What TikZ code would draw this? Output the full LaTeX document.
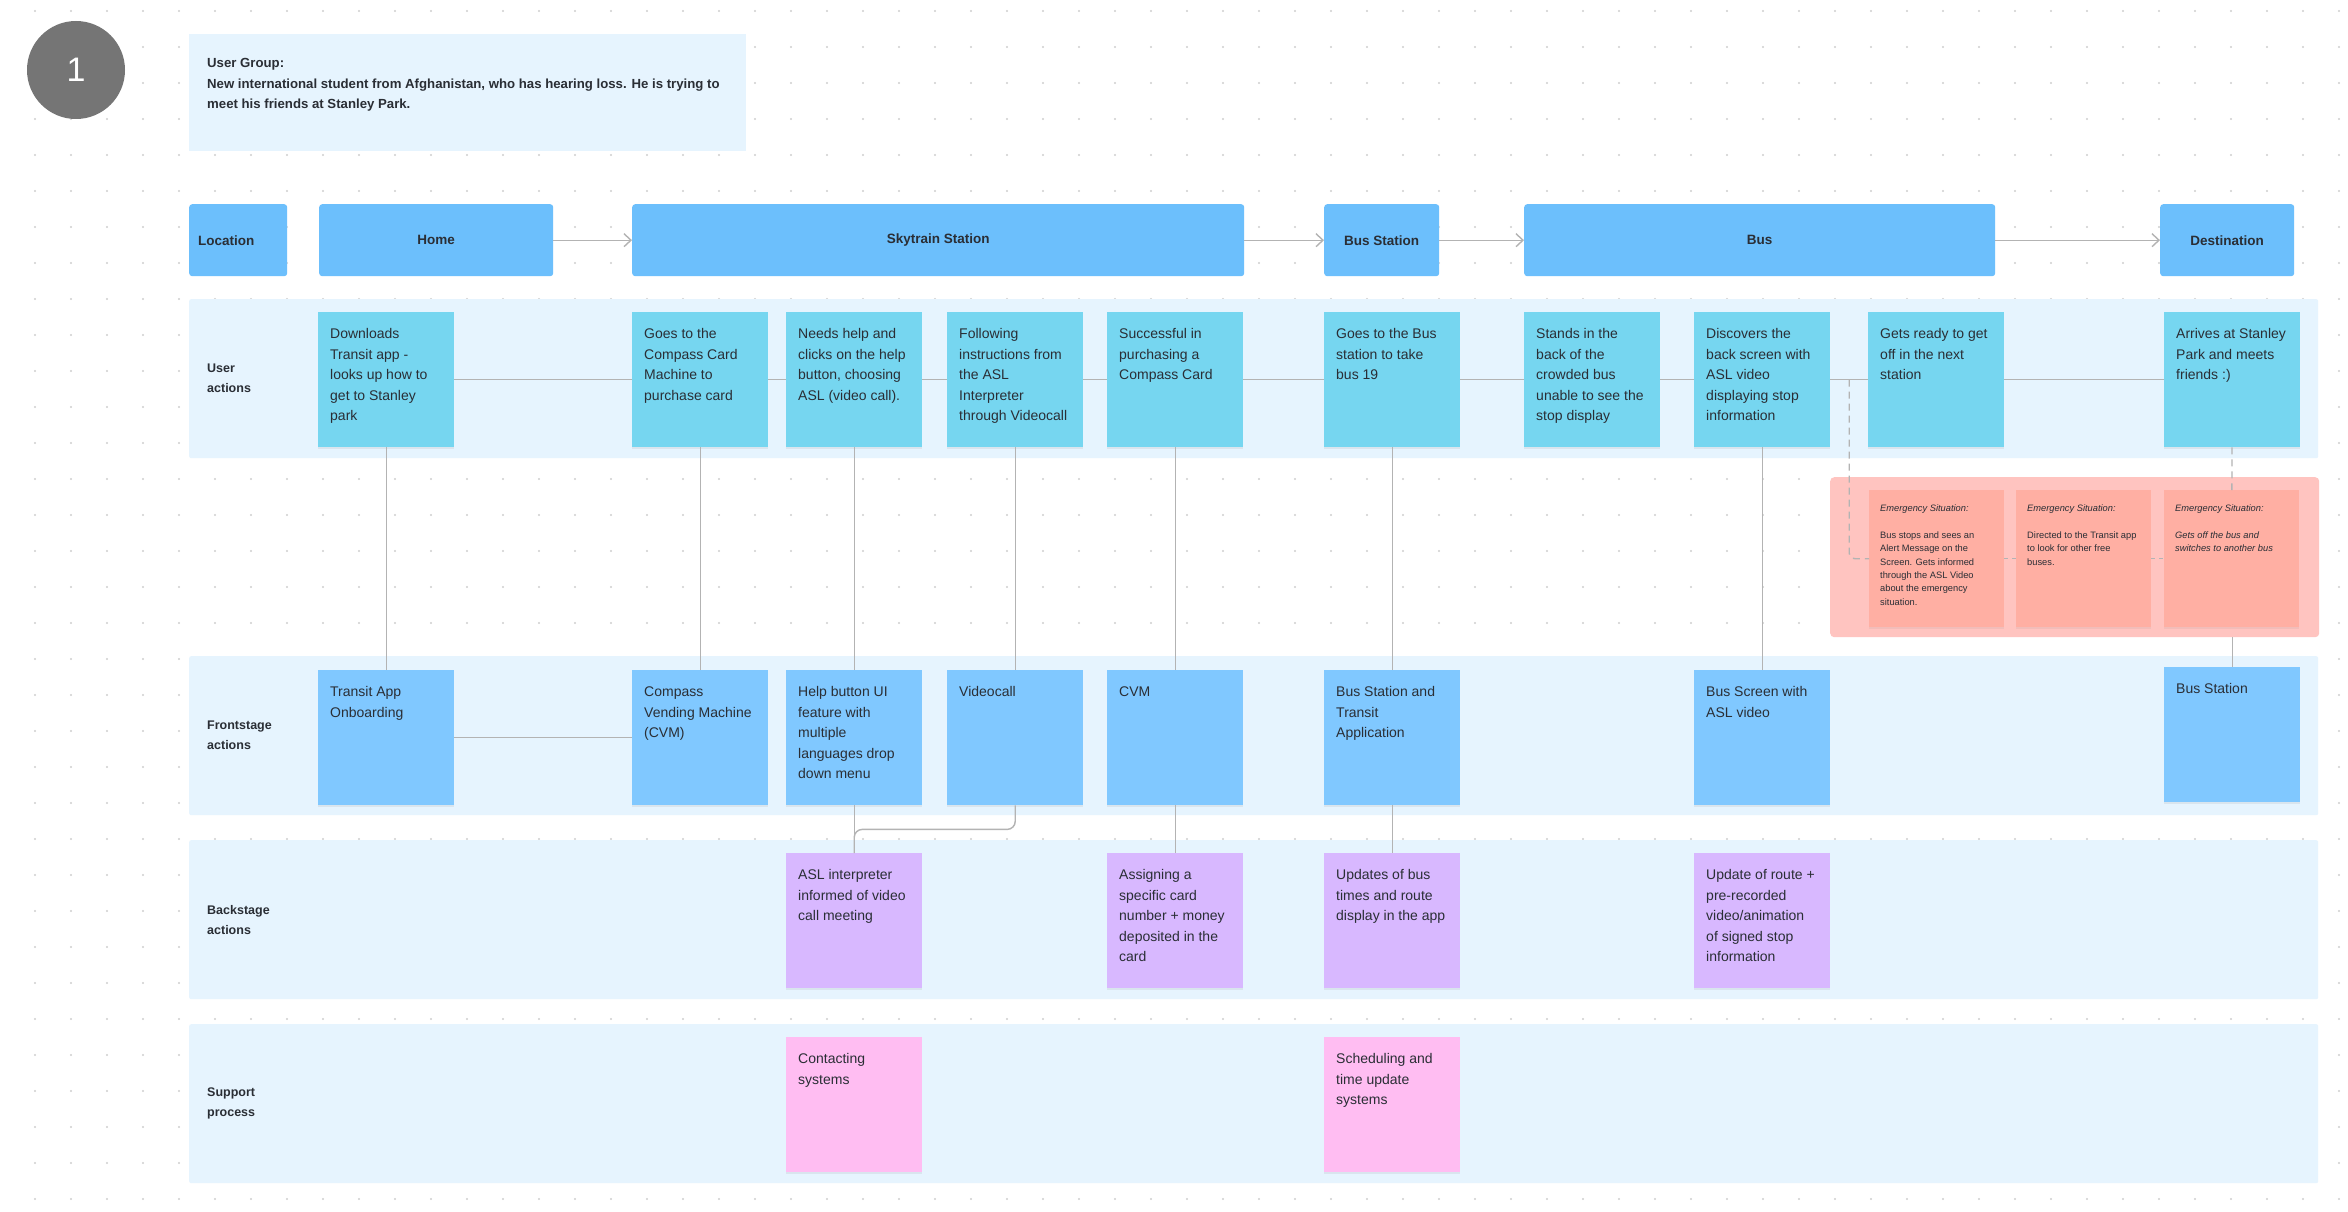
\documentclass[tikz,border=0pt]{standalone}
\usepackage{fontspec}
\setmainfont{Liberation Sans}
\usepackage{xcolor}
\usepackage{tikz}
\usetikzlibrary{arrows.meta, positioning, shadows, calc}
\definecolor{headfill}{HTML}{6CBFFC}
\definecolor{lanefill}{HTML}{E6F4FE}
\definecolor{ucyan}{HTML}{76D6F0}
\definecolor{fblue}{HTML}{80C8FF}
\definecolor{bpurple}{HTML}{D8B8FF}
\definecolor{spink}{HTML}{FFBDF2}
\definecolor{emnotefill}{HTML}{FFAFA3}
\definecolor{emzonefill}{HTML}{FFC4C0}
\definecolor{inkdark}{HTML}{2A2E35}
\definecolor{linkgray}{HTML}{B3B3B3}
\definecolor{dotgray}{HTML}{CFCFCF}
\definecolor{badgegray}{HTML}{757575}
\tikzstyle{headbox} = [rectangle, rounded corners=3pt, anchor=north west, minimum height=72pt,
                       inner sep=0pt, fill=headfill, text=inkdark, font=\bfseries\fontsize{13.5}{16}\selectfont]
\tikzstyle{lane} = [rectangle, rounded corners=2pt, anchor=north west, minimum width=2129pt,
                    minimum height=159pt, inner sep=0pt, fill=lanefill]
\tikzstyle{lanelabel} = [align=left, inner sep=0pt, text=inkdark, font=\bfseries\fontsize{12.5}{20}\selectfont]
\tikzstyle{sticky} = [rectangle, anchor=north west, inner xsep=12pt, inner ysep=0pt, text=inkdark,
                      font=\fontsize{14}{20.5}\selectfont,
                      drop shadow={shadow xshift=0pt, shadow yshift=-2pt, opacity=0.12},
                      execute at begin node={\begin{minipage}[t][135pt][t]{112pt}\raggedright\vspace*{12pt}\strut},
                      execute at end node={\end{minipage}}]
\tikzstyle{useract} = [sticky, fill=ucyan]
\tikzstyle{frontact} = [sticky, fill=fblue]
\tikzstyle{backact} = [sticky, fill=bpurple]
\tikzstyle{supportact} = [sticky, fill=spink]
\tikzstyle{emnote} = [rectangle, anchor=north west, inner xsep=11pt, inner ysep=0pt, text=inkdark,
                      fill=emnotefill, font=\fontsize{9.3}{13.4}\selectfont,
                      drop shadow={shadow xshift=0pt, shadow yshift=-2pt, opacity=0.10},
                      execute at begin node={\begin{minipage}[t][137pt][t]{113pt}\raggedright\vspace*{12pt}\strut},
                      execute at end node={\end{minipage}}]
\tikzstyle{link} = [draw=linkgray, line width=1.4pt]
\tikzstyle{flow} = [link, -{Straight Barb[length=7pt, width=13pt]}]

\begin{document}
\begin{tikzpicture}[x=1pt, y=-1pt]
    \useasboundingbox (0,0) rectangle (2348,1212);
    \fill[white] (0,0) rectangle (2348,1212);
    % dotted canvas
    \foreach \gx in {35,71,...,2339}{
        \foreach \gy in {11,47,...,1199}{
            \fill[dotgray] (\gx,\gy) circle (1.2pt);
        }
    }

    \node[circle, fill=badgegray, minimum size=98pt, inner sep=0pt, text=white,
          font=\fontsize{34}{34}\selectfont] (badge) at (76,70) {1};

    \node[anchor=north west, fill=lanefill, inner xsep=18pt, inner ysep=0pt, text=inkdark,
          font=\bfseries\fontsize{13.2}{20.5}\selectfont,
          execute at begin node={\begin{minipage}[t][117pt][t]{521pt}\raggedright\vspace*{19pt}\strut},
          execute at end node={\end{minipage}}] (ugroup) at (189,34)
        {User Group:\\New international student from Afghanistan, who has hearing loss. He is trying to\\meet his friends at Stanley Park.};

    % locations
    \node[headbox, align=left, text width=80pt, inner xsep=9pt] (loc) at (189,204) {Location};
    \node[headbox, minimum width=234pt] (home) at (319,204) {Home};
    \node[headbox, minimum width=612pt] (sky) at (632,204) {Skytrain Station};
    \node[headbox, minimum width=115pt] (busst) at (1324,204) {Bus Station};
    \node[headbox, minimum width=471pt] (bus) at (1524,204) {Bus};
    \node[headbox, minimum width=134pt] (dest) at (2160,204) {Destination};
    \draw[flow] (home) -- (sky);
    \draw[flow] (sky) -- (busst);
    \draw[flow] (busst) -- (bus);
    \draw[flow] (bus) -- (dest);

    % swimlanes
    \node[lane] (laneuser) at (189,299) {};
    \node[lane] (lanefront) at (189,656) {};
    \node[lane] (laneback) at (189,840) {};
    \node[lane] (lanesupport) at (189,1024) {};
    \node[lanelabel, right=18pt of laneuser.west] (lbuser) {User\\actions};
    \node[lanelabel, right=18pt of lanefront.west] (lbfront) {Frontstage\\actions};
    \node[lanelabel, right=18pt of laneback.west] (lbback) {Backstage\\actions};
    \node[lanelabel, right=18pt of lanesupport.west] (lbsupport) {Support\\process};

    \node[anchor=north west, minimum width=489pt, minimum height=160pt, inner sep=0pt,
          rounded corners=4pt, fill=emzonefill] (emzone) at (1830,477) {};

    % user actions
    \node[useract] (ua1) at (318,312) {Downloads\\Transit app -\\looks up how to\\get to Stanley\\park};
    \node[useract] (ua2) at (632,312) {Goes to the\\Compass Card\\Machine to\\purchase card};
    \node[useract] (ua3) at (786,312) {Needs help and\\clicks on the help\\button, choosing\\ASL (video call).};
    \node[useract] (ua4) at (947,312) {Following\\instructions from\\the ASL\\Interpreter\\through Videocall};
    \node[useract] (ua5) at (1107,312) {Successful in\\purchasing a\\Compass Card};
    \node[useract] (ua6) at (1324,312) {Goes to the Bus\\station to take\\bus 19};
    \node[useract] (ua7) at (1524,312) {Stands in the\\back of the\\crowded bus\\unable to see the\\stop display};
    \node[useract] (ua8) at (1694,312) {Discovers the\\back screen with\\ASL video\\displaying stop\\information};
    \node[useract] (ua9) at (1868,312) {Gets ready to get\\off in the next\\station};
    \node[useract] (ua10) at (2164,312) {Arrives at Stanley\\Park and meets\\friends :)};

    % emergency situations
    \node[emnote] (em1) at (1869,490) {\textit{Emergency Situation:}\\[13.4pt]Bus stops and sees an\\Alert Message on the\\Screen. Gets informed\\through the ASL Video\\about the emergency\\situation.};
    \node[emnote] (em2) at (2016,490) {\textit{Emergency Situation:}\\[13.4pt]Directed to the Transit app\\to look for other free\\buses.};
    \node[emnote] (em3) at (2164,490) {\textit{Emergency Situation:}\\[13.4pt]\textit{Gets off the bus and}\\\textit{switches to another bus}};

    % frontstage actions
    \node[frontact] (fa1) at (318,670) {Transit App\\Onboarding};
    \node[frontact] (fa2) at (632,670) {Compass\\Vending Machine\\(CVM)};
    \node[frontact] (fa3) at (786,670) {Help button UI\\feature with\\multiple\\languages drop\\down menu};
    \node[frontact] (fa4) at (947,670) {Videocall};
    \node[frontact] (fa5) at (1107,670) {CVM};
    \node[frontact] (fa6) at (1324,670) {Bus Station and\\Transit\\Application};
    \node[frontact] (fa7) at (1694,670) {Bus Screen with\\ASL video};
    \node[frontact] (fa8) at (2164,667) {Bus Station};

    % backstage actions
    \node[backact] (ba1) at (786,853) {ASL interpreter\\informed of video\\call meeting};
    \node[backact] (ba2) at (1107,853) {Assigning a\\specific card\\number + money\\deposited in the\\card};
    \node[backact] (ba3) at (1324,853) {Updates of bus\\times and route\\display in the app};
    \node[backact] (ba4) at (1694,853) {Update of route +\\pre-recorded\\video/animation\\of signed stop\\information};

    % support processes
    \node[supportact] (sp1) at (786,1037) {Contacting\\systems};
    \node[supportact] (sp2) at (1324,1037) {Scheduling and\\time update\\systems};

    % user journey
    \foreach \a/\b in {ua1/ua2, ua2/ua3, ua3/ua4, ua4/ua5, ua5/ua6, ua6/ua7, ua7/ua8, ua8/ua9, ua9/ua10}
        \draw[link] (\a) -- (\b);
    \foreach \a/\b in {ua1/fa1, ua2/fa2, ua3/fa3, ua4/fa4, ua5/fa5, ua6/fa6, ua8/fa7, fa3/ba1, fa5/ba2, fa6/ba3}
        \draw[link] (\a) -- (\b);
    \draw[link] (fa1) -- (fa2);
    \draw[link, rounded corners=8pt] (fa4.south) -- ++(0,24) -| (ba1.north);

    % emergency branch
    \coordinate (split) at ($(ua8.east)!0.5!(ua9.west)$);
    \draw[link, dash pattern=on 7pt off 5pt, rounded corners=6pt] (split) |- (em1.west);
    \draw[link, dash pattern=on 4pt off 4pt] (em1) -- (em2);
    \draw[link, dash pattern=on 4pt off 4pt] (em2) -- (em3);
    \draw[link, dash pattern=on 7pt off 5pt] (ua10) -- (em3);
    \draw[link] (fa8.north |- emzone.south) -- (fa8.north);
\end{tikzpicture}
\end{document}
